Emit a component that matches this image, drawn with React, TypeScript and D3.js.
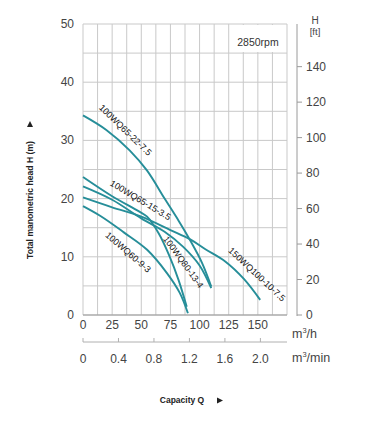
import * as d3 from "d3";

const FONT = "'Liberation Sans', Arial, sans-serif";
const CURVE_COLOR = "#268e99";

// flow Q (m3/h) / head H (m)
const qTicks = [0, 25, 50, 75, 100, 125, 150];
const qMinTicks = [0, 0.4, 0.8, 1.2, 1.6, 2.0];
const hTicks = [0, 10, 20, 30, 40, 50];
const ftTicks = [0, 20, 40, 60, 80, 100, 120, 140];

const wq65_22_q = [0, 20, 40, 55, 70, 82, 92, 102, 110];
const wq65_22_h = [34.3, 31.8, 28.3, 24.8, 20.0, 16.2, 12.8, 9.0, 4.9];

const wq65_15_q = [0, 25, 48, 55, 65, 74, 82, 89];
const wq65_15_h = [23.7, 20.4, 17.8, 16.9, 14.0, 10.2, 6.0, 1.4];

const wq80_13_q = [0, 25, 50, 70, 86, 100, 110];
const wq80_13_h = [22.1, 19.8, 16.6, 14.3, 11.7, 8.5, 4.6];

const wq60_9_q = [0, 15, 35, 55, 72, 83, 90];
const wq60_9_h = [18.7, 17.0, 14.2, 11.2, 7.2, 3.8, 0.3];

const wq150_q = [0, 25, 50, 75, 92, 105, 122, 138, 152];
const wq150_h = [20.2, 18.5, 16.9, 14.6, 13.0, 11.3, 9.2, 6.2, 2.6];

const seriesNames = [
  "100WQ65-22-7.5",
  "100WQ65-15-3.5",
  "100WQ80-13-4",
  "100WQ60-9-3",
  "150WQ100-10-7.5",
];
const seriesQ = [wq65_22_q, wq65_15_q, wq80_13_q, wq60_9_q, wq150_q];
const seriesH = [wq65_22_h, wq65_15_h, wq80_13_h, wq60_9_h, wq150_h];

// label placement beside the curves: [Q, H, angle]
const labelPos = [
  [34.5, 31.4, 44],
  [48, 19.3, 31],
  [84, 8.8, 54],
  [37, 10.4, 41],
  [147.5, 6.6, 43],
];

const W = 365;
const H = 421;
const LEFT = 83;
const RIGHT = 287;
const TOP = 24;
const BOTTOM = 315;

export default function App() {
  const x = d3.scaleLinear().domain([0, 175]).range([LEFT, RIGHT]);
  const y = d3.scaleLinear().domain([0, 50]).range([BOTTOM, TOP]);
  const yFt = d3.scaleLinear().domain([0, 50 * 3.281]).range([BOTTOM, TOP]);
  const xMin = d3.scaleLinear().domain([0, 2.3]).range([LEFT, RIGHT]);

  const gridQ = d3.range(0, 175.01, 12.5);
  const gridH = d3.range(0, 50.01, 5);

  const line = d3
    .line<[number, number]>()
    .x((d) => x(d[0]))
    .y((d) => y(d[1]))
    .curve(d3.curveCatmullRom.alpha(0.5));

  const axisX = 297;
  const minAxisY = 342;

  return (
    <svg
      width={W}
      height={H}
      style={{ position: "absolute", left: 0, top: 0, background: "#fff" }}
      fontFamily={FONT}
    >
      {/* grid */}
      {gridQ.map((q) => (
        <line key={"gq" + q} x1={x(q)} x2={x(q)} y1={TOP} y2={BOTTOM} stroke="#c9c9c9" strokeWidth={1} />
      ))}
      {gridH.map((h) => (
        <line key={"gh" + h} x1={LEFT} x2={RIGHT} y1={y(h)} y2={y(h)} stroke="#c9c9c9" strokeWidth={1} />
      ))}
      <line x1={LEFT} x2={RIGHT} y1={BOTTOM} y2={BOTTOM} stroke="#9a9a9a" />

      {/* rpm box */}
      <rect x={231} y={TOP + 1} width={55} height={27} fill="#fff" />
      <text x={258} y={46} textAnchor="middle" fontSize={10.5} fill="#333">
        2850rpm
      </text>

      {/* curves */}
      {seriesQ.map((qs, i) => (
        <path
          key={seriesNames[i]}
          d={line(qs.map((q, j) => [q, seriesH[i][j]] as [number, number])) || ""}
          fill="none"
          stroke={CURVE_COLOR}
          strokeWidth={1.9}
        />
      ))}
      {seriesNames.map((name, i) => {
        const [q, h, a] = labelPos[i];
        return (
          <text
            key={"l" + name}
            transform={`translate(${x(q)},${y(h)}) rotate(${a})`}
            textAnchor="middle"
            fontSize={9}
            fill="#111"
          >
            {name}
          </text>
        );
      })}

      {/* left axis labels */}
      {hTicks.map((t) => (
        <text key={"h" + t} x={74} y={y(t) + 4} textAnchor="end" fontSize={12} fill="#444">
          {t}
        </text>
      ))}

      {/* right ft axis */}
      <line x1={axisX} x2={axisX} y1={TOP} y2={BOTTOM + 1} stroke="#9a9a9a" />
      {ftTicks.map((t) => (
        <g key={"ft" + t}>
          <line x1={axisX} x2={axisX + 5} y1={yFt(t)} y2={yFt(t)} stroke="#9a9a9a" />
          <text x={axisX + 9} y={yFt(t) + 4} fontSize={12} fill="#444">
            {t}
          </text>
        </g>
      ))}
      <text x={315} y={24} textAnchor="middle" fontSize={10} fill="#444">
        H
      </text>
      <text x={315} y={35} textAnchor="middle" fontSize={9.5} fill="#444">
        [ft]
      </text>

      {/* bottom m3/h labels */}
      {qTicks.map((t) => (
        <text key={"q" + t} x={x(t)} y={329} textAnchor="middle" fontSize={12} fill="#444">
          {t}
        </text>
      ))}
      <text x={292} y={338} fontSize={12.5} fill="#444">
        m<tspan dy={-5} fontSize={7.5}>3</tspan>
        <tspan dy={5}>/h</tspan>
      </text>

      {/* m3/min axis */}
      <line x1={LEFT} x2={RIGHT} y1={minAxisY} y2={minAxisY} stroke="#b0b0b0" />
      {qMinTicks.map((t) => (
        <g key={"m" + t}>
          <line x1={xMin(t)} x2={xMin(t)} y1={minAxisY} y2={minAxisY - 4} stroke="#b0b0b0" />
          <text x={xMin(t)} y={363} textAnchor="middle" fontSize={12} fill="#444">
            {t === 0 ? "0" : t.toFixed(1)}
          </text>
        </g>
      ))}
      <text x={292} y={362} fontSize={12.5} fill="#444">
        m<tspan dy={-5} fontSize={7.5}>3</tspan>
        <tspan dy={5}>/min</tspan>
      </text>

      {/* axis titles */}
      <text x={182} y={403} textAnchor="middle" fontSize={8.5} fontWeight="bold" fill="#222">
        Capacity Q
      </text>
      <path d="M217,397.5 L223,400.5 L217,403.5 Z" fill="#222" />
      <text
        transform="translate(33,200) rotate(-90)"
        textAnchor="middle"
        fontSize={8.6}
        fontWeight="bold"
        fill="#222"
      >
        Total manometric head H (m)
      </text>
      <path d="M27,127 L30,121 L33,127 Z" fill="#222" />
    </svg>
  );
}
